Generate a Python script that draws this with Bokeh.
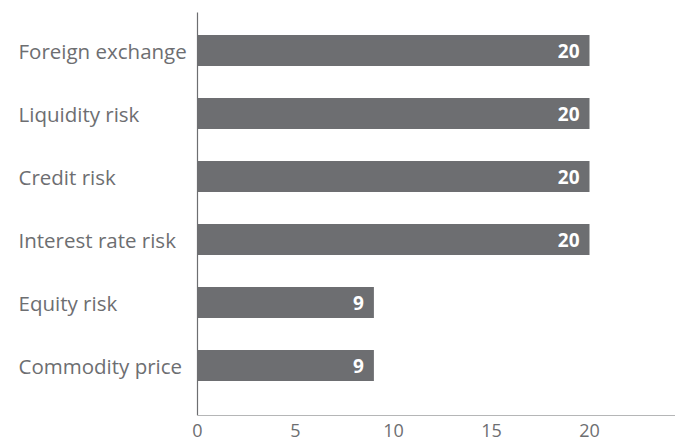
from bokeh.plotting import figure
from bokeh.models import ColumnDataSource, FixedTicker
from bokeh.core.properties import value
from bokeh.embed import file_html
from bokeh.resources import INLINE

categories = ["Commodity price", "Equity risk", "Interest rate risk",
              "Credit risk", "Liquidity risk", "Foreign exchange"]
values = [9, 9, 20, 20, 20, 20]
x_ticks = [0, 5, 10, 15, 20]

GRAY = "#6d6e71"
FONT = "Open Sans"

W, FH = 675, 415
px_per_unit = 19.6
axis_px = 197
x_start = -axis_px / px_per_unit
x_end = x_start + W / px_per_unit

ypos = list(range(len(categories)))
row_px = 63.0
y_bottom = -50 / row_px
y_top = y_bottom + FH / row_px

p = figure(frame_width=W, frame_height=FH, output_backend="svg",
           toolbar_location=None,
           x_range=(x_start, x_end), y_range=(y_bottom, y_top),
           min_border_left=0, min_border_right=0, min_border_top=0,
           min_border_bottom=29)
p.outline_line_color = None
p.grid.visible = False
p.yaxis.visible = False
p.background_fill_color = "white"
p.border_fill_color = "white"

xa = p.xaxis[0]
xa.ticker = FixedTicker(ticks=x_ticks)
xa.axis_line_color = None
xa.major_tick_line_color = None
xa.minor_tick_line_color = None
xa.major_tick_out = 0
xa.major_tick_in = 0
xa.major_label_standoff = 8
xa.major_label_text_font = FONT
xa.major_label_text_font_size = "18px"
xa.major_label_text_color = GRAY

src = ColumnDataSource(dict(y=ypos, v=values, cat=categories,
                            lab=[str(v) for v in values],
                            lx=[x_start + 18 / px_per_unit] * len(values),
                            vx=[v - 10 / px_per_unit for v in values]))

p.hbar(y="y", left=0, right="v", height=0.49, source=src,
       fill_color=GRAY, line_color=None)

p.text(x="vx", y="y", text="lab", source=src, text_align="right",
       text_baseline="middle", text_color="white",
       text_font=value(FONT), text_font_size="19px", text_font_style="bold")

p.text(x="lx", y="y", text="cat", source=src, text_align="left",
       text_baseline="middle", text_color=GRAY,
       text_font=value(FONT), text_font_size="20.5px")

# axis lines
p.segment(x0=[0, 0], y0=[y_bottom, y_bottom], x1=[0, x_end],
          y1=[y_top - 12 / row_px, y_bottom], line_color=GRAY, line_width=1.2)

open("out.html", "w").write(file_html(p, INLINE))
